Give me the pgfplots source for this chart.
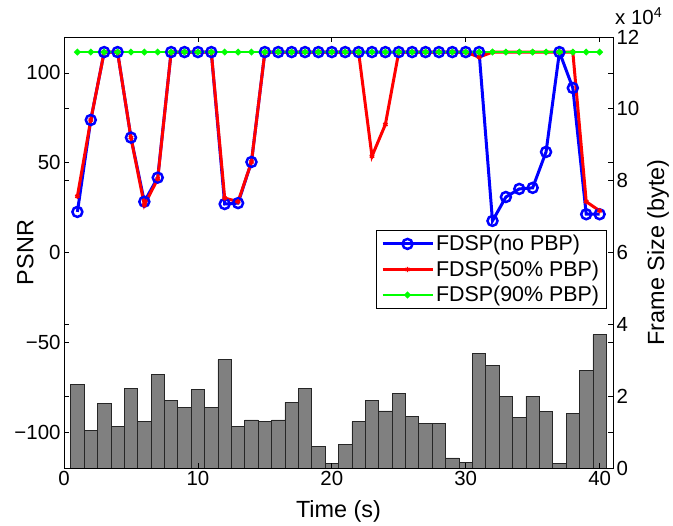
\documentclass[border=0pt]{standalone}
\usepackage{pgfplots}
\pgfplotsset{compat=1.18}
\usepackage{pgfplotstable}
\usepackage{fontspec}
\setmainfont{Liberation Sans}

\definecolor{mblue}{RGB}{0,0,255}
\definecolor{mred}{RGB}{255,0,0}
\definecolor{mgreen}{RGB}{0,255,0}
\definecolor{bargray}{RGB}{128,128,128}

% t, PSNR for the three schemes, frame size in units of 10^4 byte
\pgfplotstableread{
t  p0    p50   p90   fs
1  22.6  31.3  111.6 2.32
2  73.8  73.8  111.6 1.05
3  111.6 111.6 111.6 1.79
4  111.6 111.6 111.6 1.15
5  64.0  64.0  111.6 2.21
6  28.3  26.4  111.6 1.29
7  41.7  41.0  111.6 2.60
8  111.6 111.6 111.6 1.87
9  111.6 111.6 111.6 1.68
10 111.6 111.6 111.6 2.18
11 111.6 111.6 111.6 1.68
12 27.0  30.3  111.6 3.02
13 27.5  28.3  111.6 1.15
14 50.4  50.4  111.6 1.34
15 111.6 111.6 111.6 1.29
16 111.6 111.6 111.6 1.34
17 111.6 111.6 111.6 1.83
18 111.6 111.6 111.6 2.21
19 111.6 111.6 111.6 0.59
20 111.6 111.6 111.6 0.12
21 111.6 111.6 111.6 0.66
22 111.6 111.6 111.6 1.29
23 111.6 53.6  111.6 1.87
24 111.6 71.3  111.6 1.59
25 111.6 111.6 111.6 2.07
26 111.6 111.6 111.6 1.43
27 111.6 111.6 111.6 1.25
28 111.6 111.6 111.6 1.25
29 111.6 111.6 111.6 0.28
30 111.6 111.6 111.6 0.16
31 111.6 108.8 111.6 3.20
32 17.6  111.6 111.6 2.85
33 30.9  111.6 111.6 2.00
34 35.4  111.6 111.6 1.40
35 36.0  111.6 111.6 2.00
36 56.0  111.6 111.6 1.57
37 111.6 111.6 111.6 0.12
38 91.6  111.6 111.6 1.52
39 21.3  28.3  111.6 2.71
40 21.3  23.2  111.6 3.71
}\data

\pgfplotsset{
  common/.style={
    scale only axis, width=549bp, height=431bp,
    xmin=0, xmax=41,
    tick align=inside, major tick length=5bp,
    axis line style={line width=0.9bp},
    every tick/.style={black, line width=0.7bp},
    /pgf/number format/assume math mode=true,
    label style={font=\fontsize{23.5}{27}\selectfont},
  },
}

\begin{document}
\begin{tikzpicture}[font=\fontsize{20.5}{24}\selectfont]
% frame sizes, right axis
\begin{axis}[common, name=bars,
  hide x axis,
  ymin=0, ymax=12,
  ytick={0,2,...,12}, ytick pos=both, yticklabel pos=right,
  ylabel={Frame Size (byte)},
  ylabel style={at={(axis description cs:1.093,0.5)}, anchor=base},
]
\addplot[ybar, bar width=1, fill=bargray, draw=black!85, line width=0.7bp]
  table[x=t, y=fs] {\data};
\end{axis}
\node[anchor=base west, inner sep=0pt] at (bars.north east)
  [xshift=2bp, yshift=12bp] {x 10\textsuperscript{4}};

% PSNR, left axis
\begin{axis}[common,
  ymin=-120, ymax=120,
  xtick={0,10,...,40}, xtick pos=both, xticklabel pos=bottom,
  ytick={-100,-50,...,100}, ytick pos=both, yticklabel pos=left,
  yticklabels={−100,−50,0,50,100},
  xlabel={Time (s)}, ylabel={PSNR},
  xlabel style={at={(axis description cs:0.5,-0.114)}, anchor=base},
  ylabel style={at={(axis description cs:-0.056,0.5)}, anchor=base},
  legend cell align=left,
  legend style={at={(0.988,0.552)}, anchor=north east, draw=black,
    line width=0.7bp, inner xsep=5bp, inner ysep=3bp, row sep=4.5bp,
    font=\fontsize{21.5}{24}\selectfont},
  legend image code/.code={
    \draw[mark repeat=2, mark phase=2, #1]
      plot coordinates {(0bp,0bp) (25bp,0bp) (50bp,0bp)};},
]
\addplot[mblue, line width=3bp, mark=o, mark size=5bp,
  mark options={line width=2.5bp}] table[x=t, y=p0] {\data};
\addlegendentry{FDSP(no PBP)}
\addplot[mred, line width=3bp, mark=asterisk, mark size=2.6bp,
  mark options={line width=1.4bp}] table[x=t, y=p50] {\data};
\addlegendentry{FDSP(50\% PBP)}
\addplot[mgreen, line width=2.4bp, mark=*, mark size=1.9bp]
  table[x=t, y=p90] {\data};
\addlegendentry{FDSP(90\% PBP)}
\end{axis}
\pgfresetboundingbox
\path[use as bounding box] ([shift={(-64bp,-58bp)}]bars.south west)
  rectangle ([shift={(60bp,37bp)}]bars.north east);
\end{tikzpicture}
\end{document}
